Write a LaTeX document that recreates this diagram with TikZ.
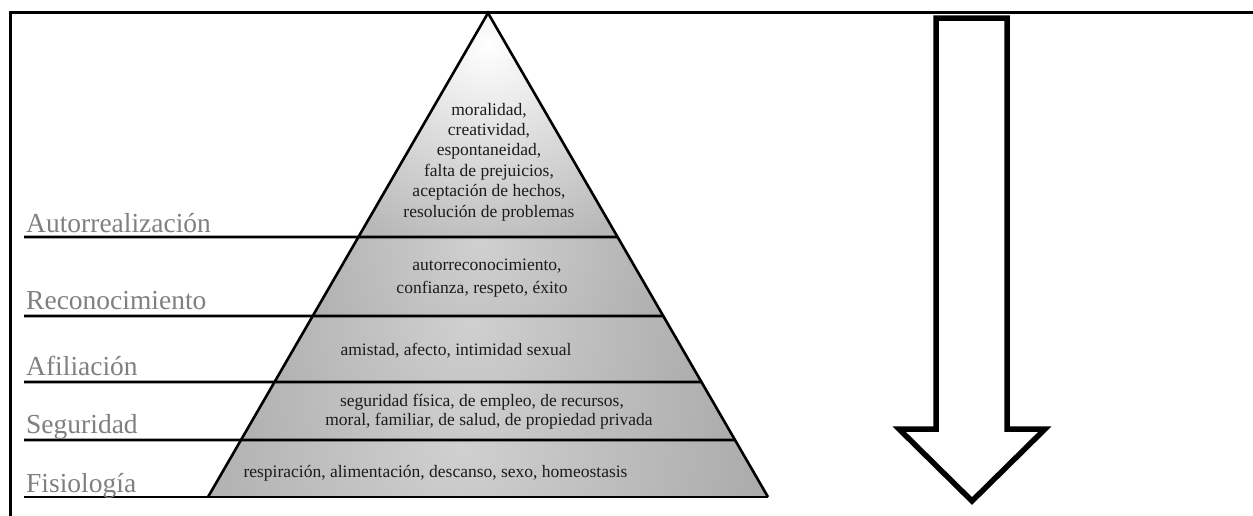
\documentclass[tikz,border=0pt]{standalone}
\usepackage{fontspec}
\setmainfont{Liberation Serif}
\usetikzlibrary{calc}
\definecolor{labelgray}{HTML}{808080}
\definecolor{textdark}{HTML}{1C1C1C}
\definecolor{bandouter}{HTML}{A8A8A8}
\definecolor{bandinner}{HTML}{D0D0D0}
\definecolor{topouter}{HTML}{B8B8B8}
\begin{document}
\begin{tikzpicture}[x=1pt,y=-1pt,
  lvl/.style={font=\fontsize{27.5}{30}\selectfont, text=labelgray, anchor=base west, inner sep=0pt},
  desc/.style={font=\fontsize{17.5}{20.4}\selectfont, text=textdark, anchor=base, inner sep=0pt},
  divider/.style={line width=2.6pt},
  outline/.style={line width=2.6pt, line join=miter},
  bigarrow/.style={line width=5.5pt, line join=miter, fill=white},
]
\useasboundingbox (0,0) rectangle (1253,515);
\fill[white] (0,0) rectangle (1253,515);

% pyramid corners
\coordinate (ap) at (488,13);
\coordinate (bl) at (208,497);
\coordinate (br) at (768,497);
\coordinate (lA) at ($(ap)!0.4628!(bl)$);
\coordinate (rA) at ($(ap)!0.4628!(br)$);
\coordinate (lB) at ($(ap)!0.6260!(bl)$);
\coordinate (rB) at ($(ap)!0.6260!(br)$);
\coordinate (lC) at ($(ap)!0.7624!(bl)$);
\coordinate (rC) at ($(ap)!0.7624!(br)$);
\coordinate (lD) at ($(ap)!0.8822!(bl)$);
\coordinate (rD) at ($(ap)!0.8822!(br)$);

% band fills
\fill[topouter] (ap) -- (rA) -- (lA) -- cycle;
\begin{scope}
  \clip (ap) -- (rA) -- (lA) -- cycle;
  \shade[inner color=white, outer color=topouter] (488,45) circle (215);
\end{scope}
\fill[bandouter] (lA) -- (rA) -- (rB) -- (lB) -- cycle;
\begin{scope}
  \clip (lA) -- (rA) -- (rB) -- (lB) -- cycle;
  \shade[inner color=bandinner, outer color=bandouter] (480,245) circle (230);
\end{scope}
\fill[bandouter] (lB) -- (rB) -- (rC) -- (lC) -- cycle;
\begin{scope}
  \clip (lB) -- (rB) -- (rC) -- (lC) -- cycle;
  \shade[inner color=bandinner, outer color=bandouter] (470,322) circle (270);
\end{scope}
\fill[bandouter] (lC) -- (rC) -- (rD) -- (lD) -- cycle;
\begin{scope}
  \clip (lC) -- (rC) -- (rD) -- (lD) -- cycle;
  \shade[inner color=bandinner, outer color=bandouter] (470,388) circle (300);
\end{scope}
\fill[bandouter] (lD) -- (rD) -- (br) -- (bl) -- cycle;
\begin{scope}
  \clip (lD) -- (rD) -- (br) -- (bl) -- cycle;
  \shade[inner color=bandinner, outer color=bandouter] (460,445) circle (330);
\end{scope}

% frame
\draw[line width=3pt] (10,520) -- (10,12) -- (1260,12);

% dividers and label lines
\coordinate (sA) at (24,237);
\coordinate (sB) at (24,316);
\coordinate (sC) at (24,382);
\coordinate (sD) at (24,440);
\coordinate (sE) at (24,497);
\draw[divider] (sA) -- (rA);
\draw[divider] (sB) -- (rB);
\draw[divider] (sC) -- (rC);
\draw[divider] (sD) -- (rD);
\draw[divider] (sE) -- (br);

% pyramid outline
\draw[outline] (bl) -- (ap) -- (br);

% level labels
\node[lvl] (labA) at (26,232.3) {Autorrealización};
\node[lvl] (labB) at (26,309.5) {Reconocimiento};
\node[lvl] (labC) at (26,375.5) {Afiliación};
\node[lvl] (labD) at (26,433) {Seguridad};
\node[lvl] (labE) at (26,492) {Fisiología};

% band texts
\node[desc] (a1) at (489,115) {moralidad,};
\node[desc] (a2) at (489,135.4) {creatividad,};
\node[desc] (a3) at (489,155.8) {espontaneidad,};
\node[desc] (a4) at (489,176.2) {falta de prejuicios,};
\node[desc] (a5) at (489,196.6) {aceptación de hechos,};
\node[desc] (a6) at (489,217) {resolución de problemas};

\node[desc] (b1) at (487,270.7) {autorreconocimiento,};
\node[desc] (b2) at (482,293.3) {confianza, respeto, éxito};

\node[desc] (c1) at (456,355) {amistad, afecto, intimidad sexual};

\node[desc] (d1) at (482,406) {seguridad física, de empleo, de recursos,};
\node[desc] (d2) at (489,425.7) {moral, familiar, de salud, de propiedad privada};

\node[desc] (e1) at (435.5,477.3) {respiración, alimentación, descanso, sexo, homeostasis};

% big down arrow
\draw[bigarrow] (936,18) -- (1007,18) -- (1007,429) -- (1045,429)
  -- (972,501) -- (899,429) -- (936,429) -- cycle;
\end{tikzpicture}
\end{document}
